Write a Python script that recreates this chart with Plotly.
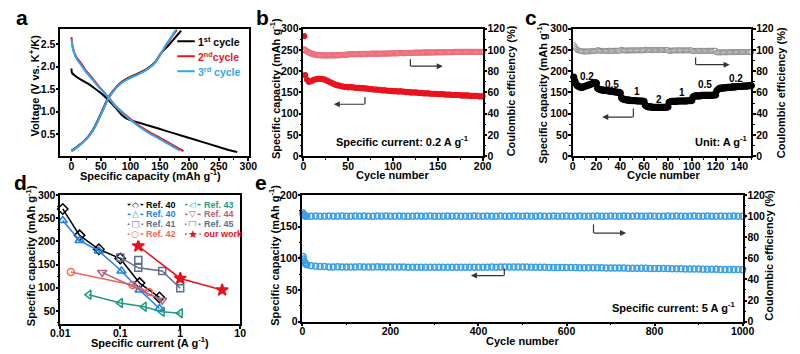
import plotly.graph_objects as go

W, H = 800, 354
FONT = "Liberation Sans, Arial, sans-serif"

# ---------------- panel a: charge/discharge profiles ----------------
a_dis1_cap = [0, 1, 5, 16, 28, 39, 47, 55, 65, 75, 85, 93, 100, 115, 130, 150, 170, 190, 210, 230, 250, 265, 281]
a_dis1_v = [1.96, 1.86, 1.81, 1.71, 1.62, 1.52, 1.44, 1.35, 1.22, 1.08, 0.93, 0.85, 0.81, 0.75, 0.69, 0.61,
            0.53, 0.45, 0.37, 0.29, 0.21, 0.15, 0.10]
a_chg1_cap = [0, 5, 12, 20, 30, 40, 48, 55, 62, 70, 80, 90, 100, 115, 130, 142, 152, 165, 176, 186]
a_chg1_v = [0.13, 0.17, 0.24, 0.33, 0.47, 0.68, 0.90, 1.10, 1.30, 1.45, 1.60, 1.70, 1.77, 1.86, 1.97, 2.10,
            2.30, 2.48, 2.65, 2.80]
a_dis2_cap = [0, 2, 5, 10, 16, 24, 33, 44, 55, 65, 75, 85, 95, 105, 115, 130, 145, 160, 175, 190]
a_dis2_v = [2.66, 2.45, 2.30, 2.18, 2.08, 1.92, 1.78, 1.60, 1.43, 1.28, 1.12, 1.00, 0.89, 0.78, 0.68, 0.56,
            0.45, 0.34, 0.23, 0.12]
a_chg2_cap = [0, 5, 12, 20, 30, 40, 48, 55, 62, 70, 80, 90, 100, 115, 130, 142, 152, 163, 172, 179]
a_chg2_v = [0.12, 0.16, 0.23, 0.32, 0.46, 0.66, 0.88, 1.08, 1.28, 1.44, 1.59, 1.69, 1.76, 1.85, 1.96, 2.10,
            2.30, 2.52, 2.70, 2.82]
a_dis3_cap = [0, 2, 5, 10, 16, 24, 33, 44, 55, 65, 75, 85, 95, 105, 115, 130, 145, 160, 172, 184]
a_dis3_v = [2.62, 2.42, 2.28, 2.15, 2.04, 1.89, 1.75, 1.58, 1.42, 1.27, 1.11, 0.99, 0.87, 0.76, 0.66, 0.53,
            0.42, 0.31, 0.22, 0.13]
a_chg3_cap = [0, 5, 12, 20, 30, 40, 48, 55, 62, 70, 80, 90, 100, 115, 130, 142, 152, 162, 171, 177]
a_chg3_v = [0.12, 0.16, 0.23, 0.32, 0.46, 0.66, 0.88, 1.08, 1.28, 1.43, 1.58, 1.68, 1.75, 1.84, 1.95, 2.09,
            2.30, 2.52, 2.70, 2.82]
a_labels = ["1<sup>st</sup> cycle", "2<sup>nd</sup>cycle", "3<sup>rd</sup> cycle"]

# ---------------- panel b: cycling at 0.2 A/g ----------------
cycles_b = [1, 2] + list(range(4, 201, 2))
cap_b = [282, 191, 180, 175, 176, 178, 180, 181, 182, 182,
         182, 181, 180, 178, 176, 174, 172, 170, 168, 167,
         166, 165, 164, 163, 163, 162, 163, 162, 162, 161,
         161, 161, 160, 160, 160, 159, 159, 158, 158, 157,
         157, 157, 156, 156, 155, 155, 155, 154, 154, 154,
         153, 153, 153, 152, 153, 152, 152, 151, 151, 151,
         150, 150, 150, 150, 149, 149, 149, 148, 148, 148,
         148, 147, 147, 147, 147, 146, 146, 146, 146, 145,
         145, 145, 145, 144, 144, 144, 144, 144, 143, 143,
         143, 143, 143, 142, 142, 142, 142, 142, 141, 141,
         141]
ce_b = [100.5, 99.6, 98.6, 97.6, 96.8, 96.2, 95.7, 95.3, 95.1, 95.0,
        94.9, 94.8, 94.8, 94.7, 94.8, 94.8, 94.9, 94.8, 94.9, 95.0,
        95.0, 95.1, 95.2, 95.2, 95.4, 95.8, 96.0, 96.0, 95.9, 96.0,
        96.0, 96.1, 96.0, 96.1, 96.2, 96.2, 96.1, 96.2, 96.3, 96.3,
        96.3, 96.4, 96.3, 96.4, 96.5, 96.5, 96.5, 96.6, 96.5, 96.7,
        96.7, 96.8, 96.7, 96.9, 97.2, 97.0, 96.9, 97.0, 97.1, 97.1,
        97.2, 97.2, 97.3, 97.3, 97.3, 97.4, 97.4, 97.5, 97.5, 97.5,
        97.6, 97.6, 97.6, 97.7, 97.7, 97.7, 97.8, 97.8, 97.8, 97.8,
        97.9, 97.9, 97.9, 97.9, 98.0, 98.0, 98.0, 98.0, 98.0, 98.0,
        98.0, 98.1, 98.0, 98.0, 98.1, 98.0, 98.0, 98.1, 98.0, 98.0,
        98.0]

# ---------------- panel c: rate capability ----------------
cycles_c = list(range(1, 151))
cap_c = [186, 177, 170, 166, 164, 163, 162, 162, 163, 164, 165, 166, 167, 168, 169, 170, 171, 172, 173, 172,
         160, 158, 157, 156, 156, 155, 155, 155, 154, 154, 153, 153, 153, 152, 152, 151, 151, 150, 150, 149,
         138, 135, 134, 133, 133, 132, 132, 132, 131, 131, 131, 131, 131, 130, 130, 130, 130, 130, 129, 129,
         120, 118, 117, 116, 116, 116, 115, 115, 115, 115, 115, 115, 115, 115, 115, 115, 115, 115, 116, 116,
         127, 128, 129, 129, 129, 129, 129, 130, 130, 130, 130, 130, 130, 130, 130, 130, 131, 131, 131, 131,
         139, 141, 142, 142, 142, 142, 142, 143, 143, 143, 143, 143, 143, 143, 143, 143, 143, 144, 144, 144,
         154, 157, 159, 160, 160, 160, 161, 161, 161, 162, 162, 162, 162, 163, 163, 163, 163, 164, 164, 164,
         164, 164, 165, 165, 165, 165, 165, 166, 166, 166]
ce_c = [104.5, 102.5, 101, 100, 99.5, 99, 98.8, 98.6, 98.5, 98.5, 98.4, 98.5, 98.5, 98.6, 98.6, 98.7, 98.8,
        98.8, 98.9, 99,
        99.8, 99.4, 99.2, 99.1, 99, 99, 99, 99.1, 99, 99.1, 99.1, 99, 99.1, 99.2, 99.1, 99.2, 99.2, 99.1,
        99.2, 99.2,
        100.2, 99.6, 99.4, 99.4, 99.3, 99.4, 99.4, 99.5, 99.4, 99.5, 99.5, 99.4, 99.5, 99.5, 99.6, 99.5,
        99.5, 99.6, 99.5, 99.6,
        100.2, 99.8, 99.7, 99.7, 99.7, 99.6, 99.7, 99.7, 99.8, 99.7, 99.7, 99.8, 99.7, 99.8, 99.8, 99.7,
        99.8, 99.8, 99.8, 99.8,
        98.8, 99.2, 99.3, 99.4, 99.4, 99.4, 99.5, 99.4, 99.5, 99.5, 99.5, 99.4, 99.5, 99.5, 99.5, 99.4,
        99.5, 99.5, 99.5, 99.5,
        98.6, 98.9, 99, 99, 99.1, 99, 99.1, 99.1, 99.1, 99, 99.1, 99.1, 99.1, 99.2, 99.1, 99.1, 99.2, 99.1,
        99.2, 99.2,
        97.6, 97.5, 97.6, 97.6, 97.6, 97.7, 97.7, 97.6, 97.7, 97.7, 97.7, 97.8, 97.7, 97.8, 97.8, 97.8,
        97.8, 97.8, 97.9, 97.8, 97.9, 97.9, 97.8, 97.9, 97.9, 97.9, 97.9, 98, 97.9, 98]
rate_labels = ["0.2", "0.5", "1", "2", "1", "0.5", "0.2"]

# ---------------- panel d: comparison with literature ----------------
ref40a_x = [0.011, 0.021, 0.044, 0.1, 0.21, 0.45]
ref40a_y = [270, 213, 183, 163, 110, 79]
ref40b_x = [0.011, 0.021, 0.044, 0.105, 0.21, 0.45]
ref40b_y = [245, 202, 179, 136, 95, 55]
ref41_x = [0.1, 0.2, 0.5, 1.0]
ref41_y = [165, 143, 136, 99]
ref42_x = [0.015, 0.16, 0.3]
ref42_y = [134, 106, 91]
ref43_x = [0.03, 0.1, 0.25, 0.5, 1.0]
ref43_y = [85, 67, 59, 48, 45]
ref44_x = [0.05, 0.5]
ref44_y = [133, 73]
ref45_x = [0.2]
ref45_y = [160]
ours_x = [0.2, 1, 5]
ours_y = [190, 120, 95]

# ---------------- panel e: long cycling at 5 A/g ----------------
cycles_e = [1, 2, 3, 5, 7] + list(range(10, 1001, 10))
cap_e = [103, 99, 96, 93, 91.5,
         90, 88.5, 87.5, 87, 87, 86.5, 86.5, 86.6, 86.5, 86.5,
         86.3, 86.5, 86.8, 86.5, 86.5, 86.4, 86.6, 86.5, 86.4, 86.5,
         86.3, 86.5, 86.2, 86.0, 86.0, 86.1, 86.0, 85.9, 86.0, 86.0,
         86.1, 86.0, 85.9, 86.0, 86.1, 86.0, 85.9, 86.0, 86.0, 85.9,
         86.0, 86.1, 86.2, 86.1, 86.2, 86.3, 86.2, 86.2, 86.4, 86.3,
         86.2, 86.0, 85.9, 85.8, 85.8, 85.7, 85.6, 85.6, 85.5, 85.5,
         85.4, 85.4, 85.3, 85.3, 85.2, 85.1, 85.1, 85.0, 84.9, 84.8,
         84.8, 84.7, 84.6, 84.5, 84.5, 84.4, 84.3, 84.2, 84.1, 84.0,
         83.9, 83.8, 83.8, 83.6, 83.5, 83.5, 83.3, 83.2, 83.2, 83.0,
         82.9, 82.8, 82.8, 82.6, 82.5, 82.5, 82.3, 82.2, 82.2, 82.0]
ce_e = [103, 101.6, 100.8, 100.3, 100.1,
        100.0, 99.9, 100.1, 99.8, 100.0, 100.2, 99.9, 100.0, 100.1, 99.8,
        100.0, 100.2, 99.9, 100.1, 99.8, 100.0, 100.1, 99.9, 100.2, 100.0,
        99.9, 100.1, 100.0, 99.8, 100.0, 100.2, 100.0, 99.9, 100.1, 100.0,
        99.8, 100.0, 100.1, 99.9, 100.2, 100.0, 99.9, 100.0, 100.1, 99.9,
        100.0, 100.2, 99.9, 100.0, 100.1, 99.8, 100.0, 100.1, 99.9, 100.0,
        100.2, 99.9, 100.0, 100.1, 99.8, 100.0, 100.1, 100.0, 99.9, 100.2,
        100.0, 99.9, 100.1, 100.0, 99.8, 100.0, 100.2, 99.9, 100.0, 100.1,
        99.9, 100.0, 100.1, 99.8, 100.0, 100.2, 100.0, 99.9, 100.1, 100.0,
        99.8, 100.0, 100.1, 99.9, 100.2, 100.0, 99.9, 100.0, 100.1, 99.9,
        100.0, 100.2, 99.9, 100.0, 100.1, 99.8, 100.0, 100.1, 99.9, 100.0]

BLACK, RED, LBLUE = "#000000", "#e8141e", "#2ea8ec"
PINK, GREY, EBLUE = "#ec6f7c", "#8c8c8c", "#3b9fea"


def px(x):
    return x / W


def py(y):
    return 1 - y / H


def axis(domain, rng, minor_step=None, is_x=True, **kw):
    d = dict(domain=domain, range=rng, showline=True, linecolor="black", linewidth=1.5,
             ticks="outside", ticklen=3, tickwidth=1.5, tickcolor="black",
             showgrid=False, zeroline=False, ticklabelstandoff=-4 if is_x else -2,
             tickfont=dict(family=FONT, size=10.5, color="black", weight="bold"))
    if minor_step:
        d["minor"] = dict(ticks="outside", ticklen=2, tickwidth=1, tickcolor="black", dtick=minor_step)
    d.update(kw)
    return d


fig = go.Figure()


def line(x, y, color, xa, ya):
    fig.add_trace(go.Scatter(x=x, y=y, mode="lines", line=dict(color=color, width=2, shape="spline"),
                             xaxis=xa, yaxis=ya, showlegend=False))


# a
for cx, vy, cc, vv, col in [(a_dis1_cap, a_dis1_v, a_chg1_cap, a_chg1_v, BLACK),
                            (a_dis2_cap, a_dis2_v, a_chg2_cap, a_chg2_v, RED),
                            (a_dis3_cap, a_dis3_v, a_chg3_cap, a_chg3_v, LBLUE)]:
    line(cx, vy, col, "x", "y")
    line(cc, vv, col, "x", "y")


def dots(x, y, xa, ya, color, symbol, size, fill=None, lw=1.2):
    fig.add_trace(go.Scatter(x=x, y=y, mode="markers", xaxis=xa, yaxis=ya, showlegend=False, cliponaxis=False,
                             marker=dict(symbol=symbol, size=size, color=fill or color,
                                         line=dict(color=color, width=lw))))


# b
dots(cycles_b, ce_b, "x2", "y3", PINK, "circle-open", 5, lw=1.3)
dots(cycles_b, cap_b, "x2", "y2", RED, "circle", 5)
# c
dots(cycles_c, ce_c, "x3", "y5", GREY, "circle", 5, fill="white", lw=1)
dots(cycles_c, cap_c, "x3", "y4", BLACK, "circle", 6)
# e
dots(cycles_e, ce_e, "x5", "y8", EBLUE, "circle-open", 6, lw=1.5)
dots(cycles_e, cap_e, "x5", "y7", EBLUE, "circle-open", 6, lw=1.5)

# d
d_series = [
    ("Ref. 40", ref40a_x, ref40a_y, "#000000", "diamond-open", 8, "\u25C7"),
    ("Ref. 40", ref40b_x, ref40b_y, "#1d7fe6", "triangle-up-open", 8, "\u25B3"),
    ("Ref. 41", ref41_x, ref41_y, "#5d6f8c", "square-open", 7, "\u25A1"),
    ("Ref. 42", ref42_x, ref42_y, "#f2665a", "circle-open", 7, "\u25CB"),
    ("Ref. 43", ref43_x, ref43_y, "#1c9a86", "triangle-left-open", 8, "\u25C1"),
    ("Ref. 44", ref44_x, ref44_y, "#b2627a", "triangle-down-open", 8, "\u25BD"),
    ("Ref. 45", ref45_x, ref45_y, "#5d6f8c", "square-open", 7, "\u25A1"),
    ("our work", ours_x, ours_y, "#e8101e", "star", 9, "\u2605"),
]
for name, x, y, col, sym, sz, glyph in d_series:
    fig.add_trace(go.Scatter(x=x, y=y, mode="lines+markers", xaxis="x4", yaxis="y6", showlegend=False,
                             cliponaxis=False, line=dict(color=col, width=1.5),
                             marker=dict(symbol=sym, size=sz, color=col, line=dict(color=col, width=1.5))))

annotations = []
shapes = []


def text(x, y, s, size=11, color="black", xanchor="center", angle=0):
    annotations.append(dict(x=px(x), y=py(y), xref="paper", yref="paper", text="<b>%s</b>" % s,
                            textangle=angle, showarrow=False, xanchor=xanchor, yanchor="middle",
                            font=dict(family=FONT, size=size, color=color)))


for i, (lab, col) in enumerate(zip(a_labels, [BLACK, RED, LBLUE])):
    yy = 36.5 + 15.5 * i
    shapes.append(dict(type="line", xref="paper", yref="paper", x0=px(172), x1=px(190), y0=py(yy), y1=py(yy),
                       line=dict(color=col, width=2)))
    text(191, yy, lab, size=10.5, color=col, xanchor="left")

for i, (name, x, y, col, sym, sz, glyph) in enumerate(d_series):
    c, r = i // 4, i % 4
    x0 = 121 if c == 0 else 180
    yy = 205.5 + 10.2 * r
    shapes.append(dict(type="line", xref="paper", yref="paper", x0=px(x0), x1=px(x0 + 16), y0=py(yy), y1=py(yy),
                       line=dict(color=col, width=1.5)))
    annotations.append(dict(x=px(x0 + 8), y=py(yy), xref="paper", yref="paper", text=glyph, showarrow=False,
                            xanchor="center", yanchor="middle", bgcolor="white",
                            font=dict(family="DejaVu Sans", size=9 if glyph != "\u2605" else 11, color=col)))
    text(x0 + 17, yy, name, size=9, color=col, xanchor="left")

# panel letters
for s, x, y in [("a", 4, 12), ("b", 251, 12), ("c", 528, 12), ("d", 2, 183), ("e", 250, 183)]:
    text(x, y, s, size=21, xanchor="left")

# axis titles
cap_title = "Specific capacity (mAh g<sup>-1</sup>)"
ce_title = "Coulombic efficiency (%)"
text(144, 175, "Specific capacity (mAh g<sup>-1</sup>)")
text(25, 82, "Voltage (V vs. K<sup>+</sup>/K)", angle=-90)
text(393.5, 175, "Cycle number")
text(272.5, 86, cap_title, angle=-90)
text(515.5, 88, ce_title, angle=-90)
text(671.5, 175, "Cycle number")
text(547.5, 90, cap_title, angle=-90)
text(793, 90, ce_title, angle=-90)
text(144, 348, "Specific current (A g<sup>-1</sup>)")
text(21.5, 258, cap_title, angle=-90)
text(527.5, 346.5, "Cycle number")
text(272, 258, cap_title, angle=-90)
text(781, 258, ce_title, angle=-90)

# in-panel notes
text(404, 140, "Specific current: 0.2 A g<sup>-1</sup>")
text(732, 140, "Unit: A g<sup>-1</sup>")
text(682, 311.5, "Specific current: 5 A g<sup>-1</sup>")
for s, x, y in zip(rate_labels, [593, 619, 645, 667, 691, 715, 747], [72.5, 81, 89, 97, 90, 81, 75]):
    text(x, y, s, size=10)


def bent_arrow(xv, y0, y1, xtip):
    shapes.append(dict(type="line", xref="paper", yref="paper", x0=px(xv), x1=px(xv), y0=py(y0), y1=py(y1),
                       line=dict(color="#333333", width=1.2)))
    annotations.append(dict(x=px(xtip), y=py(y1), xref="paper", yref="paper", ax=xv - xtip, ay=0,
                            showarrow=True, arrowhead=2, arrowsize=1, arrowwidth=1.2, arrowcolor="#333333",
                            text=""))


bent_arrow(365, 94.3, 101.7, 333)
bent_arrow(411.7, 55, 62.3, 445)
bent_arrow(641, 106, 115, 609)
bent_arrow(705, 53.3, 60.7, 740)
bent_arrow(508.3, 271.7, 279, 474)
bent_arrow(600, 226, 235, 633.5)

top_dom = [py(155.7), py(23.3)]
bot_dom = [py(329), py(195.7)]
e_dom = [py(326.7), py(195.7)]

fig.update_layout(
    width=W, height=H, margin=dict(l=0, r=0, t=0, b=0),
    paper_bgcolor="white", plot_bgcolor="white",
    font=dict(family=FONT, color="black"),
    xaxis=axis([px(51.7), px(245.7)], [-19, 301], 25, anchor="y", mirror=True, dtick=50),
    yaxis=axis(top_dom, [0, 2.85], None, False, anchor="x", mirror=True,
               tickvals=[0.5, 1.0, 1.5, 2.0, 2.5], ticktext=["0.5", "1.0", "1.5", "2.0", "2.5"]),
    xaxis2=axis([px(301.7), px(486)], [0, 200], 25, anchor="y2", mirror=True, dtick=50),
    yaxis2=axis(top_dom, [0, 300], 25, False, anchor="x2", dtick=50),
    yaxis3=axis(top_dom, [0, 120], 10, False, anchor="x2", overlaying="y2", side="right", dtick=20),
    xaxis3=axis([px(578.5), px(762.3)], [0, 150], 10, anchor="y4", mirror=True, dtick=20),
    yaxis4=axis(top_dom, [0, 300], 25, False, anchor="x3", dtick=50),
    yaxis5=axis(top_dom, [0, 120], 10, False, anchor="x3", overlaying="y4", side="right", dtick=20),
    xaxis4=axis([px(51.7), px(236.7)], [-2, 1], None, anchor="y6", mirror=True, type="log",
                tickvals=[0.01, 0.1, 1, 10], ticktext=["0.01", "0.1", "1", "10"]),
    yaxis6=axis(bot_dom, [22, 300], 25, False, anchor="x4", mirror=True, dtick=50),
    xaxis5=axis([px(300.7), px(753.3)], [0, 1000], 100, anchor="y7", mirror=True, dtick=200),
    yaxis7=axis(e_dom, [0, 200], 25, False, anchor="x5", dtick=50),
    yaxis8=axis(e_dom, [0, 120], 10, False, anchor="x5", overlaying="y7", side="right", dtick=20),
    annotations=annotations, shapes=shapes,
)

# the page body has a default 8px margin; drop it so the figure sits at the window origin
fig.write_html("out.html", config={"displayModeBar": False},
               post_script="document.body.style.margin='0';")
